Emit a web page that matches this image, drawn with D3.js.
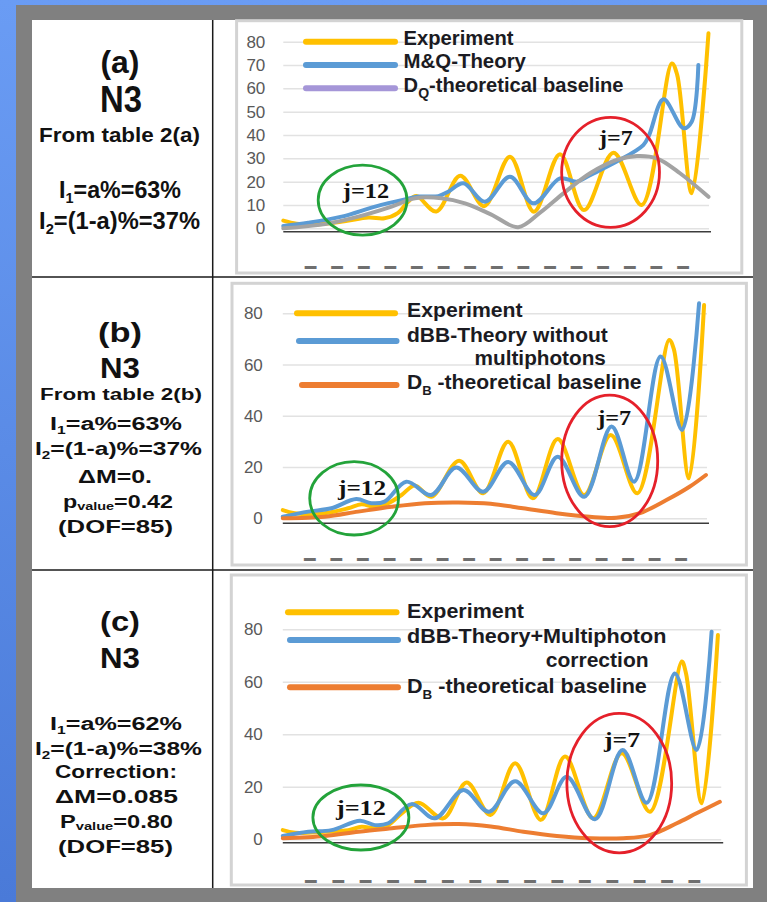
<!DOCTYPE html>
<html>
<head>
<meta charset="utf-8">
<script src="https://cdn.jsdelivr.net/npm/d3@7"></script>
<style>
html, body { margin: 0; padding: 0; }
body { width: 767px; height: 902px; overflow: hidden; }
svg { display: block; }
</style>
</head>
<body>
<script>
// ---- data: [channel position, counts] ----
const expA = [[0,3.3],[0.5,2.0],[1.2,1.6],[2.3,3.0],[3.2,4.6],[3.8,4.3],[4.3,6.5],[4.7,11.5],[5.0,13.8],[5.75,7.2],[6.65,22.5],[7.55,9.5],[8.52,30.7],[9.42,7.1],[10.4,31.8],[11.3,7.8],[12.41,32.4],[13.47,10],[14.6,70.7],[14.8,66],[15.35,15],[15.98,83.6]];
const mqA = [[0,1.0],[0.94,2.4],[2.19,5.0],[3.45,9.3],[4.57,12.4],[5.08,13.6],[5.83,13.8],[6.2,15.7],[6.77,19.3],[7.58,11.4],[8.52,22.1],[9.4,10.7],[10.4,21.4],[11.03,20],[11.53,22.8],[12.53,28.6],[13.53,35.7],[13.75,40],[14.29,55.3],[15.04,42.9],[15.35,45.7],[15.6,70]];
const dqA = [[0,0],[1.57,1.8],[2.82,5],[4.07,9.3],[4.95,12.9],[5.95,12.9],[6.83,10.7],[7.8,6.0],[8.83,0.5],[9.65,6.7],[10.53,15],[11.53,23.6],[12.53,29.3],[13.29,31],[14.04,30],[14.91,23.6],[15.98,13.5]];

const expB = [[0,3.2],[0.45,2],[1.58,2],[2.46,3.9],[2.97,5.5],[3.47,4.5],[3.98,5.9],[4.48,9.1],[4.98,12.8],[5.6,8.4],[6.65,22.5],[7.56,9.8],[8.5,29.9],[9.43,7.8],[10.37,30.9],[11.37,9.1],[12.37,32.5],[13.37,9.8],[14.57,69.6],[14.75,66],[15.32,15.6],[15.89,83.2]];
const dbbB = [[0,0.6],[0.96,2.6],[1.83,3.9],[2.77,7.5],[3.34,5.9],[3.84,6.5],[4.66,14.3],[5.6,9.1],[6.54,19.8],[7.56,10.4],[8.5,22],[9.5,9.1],[10.37,24],[11.37,8.4],[12.4,35.8],[13.25,14.3],[14.25,63.1],[15.06,34.5],[15.7,83.9]];
const baseB = [[0,0],[1.58,0.6],[2.84,2.6],[4.1,4.5],[5.36,5.9],[6.62,6.2],[7.84,5.7],[9.06,3.9],[10.32,2],[11.58,0.6],[12.58,0.2],[13.47,2],[14.47,7.1],[15.34,12.3],[15.96,16.9]];

const expC = [[0,3.5],[0.45,2.5],[1.54,2.9],[2.39,3.5],[2.88,4.8],[3.36,4.2],[3.85,5.4],[4.34,9.9],[4.95,13.9],[5.86,8],[6.71,21.6],[7.58,9.3],[8.48,29],[9.42,7.4],[10.3,31.5],[11.33,8],[12.37,32.8],[13.4,10.5],[14.56,67.7],[14.72,63],[15.29,13.7],[15.88,77.8]];
const dbbC = [[0,1.3],[0.93,2.9],[1.78,3.5],[2.82,7.1],[3.36,5.4],[3.85,6.1],[4.7,13.4],[5.55,8],[6.59,18.8],[7.52,10.5],[8.48,22.1],[9.51,9.9],[10.36,23.8],[11.39,7.6],[12.4,34],[13.28,13.9],[14.31,63.2],[15.1,34],[15.65,79.1]];
const baseC = [[0,0.4],[1.54,1.3],[2.76,2.9],[3.98,4.2],[5.19,5.4],[6.41,5.8],[7.59,4.9],[8.78,2.9],[10.0,1.3],[11.21,0.4],[12.43,0.4],[13.4,1.6],[14.38,6.1],[15.1,9.9],[15.95,14.3]];

const xTicks = [1,2,3,4,5,6,7,8,9,10,11,12,13,14,15];
const yTicksA = [0,10,20,30,40,50,60,70,80];
const yTicksBC = [0,20,40,60,80];

const YELLOW = "#ffc000", BLUE = "#5b9bd5", ORANGE = "#ed7d31", GRAY = "#a3a3a3", LAVENDER = "#a596d8";
const SANS = "'Liberation Sans', Arial, sans-serif";
const SERIF = "'Liberation Serif', 'Times New Roman', serif";

const svg = d3.select("body").append("svg")
    .attr("width", 767)
    .attr("height", 902);

// background + frame
const grad = svg.append("defs").append("linearGradient")
    .attr("id", "bg").attr("x1", 0).attr("y1", 0).attr("x2", 0).attr("y2", 1);
grad.append("stop").attr("offset", "0%").attr("stop-color", "#6a9cf4");
grad.append("stop").attr("offset", "100%").attr("stop-color", "#4a7ad8");
svg.append("rect").attr("width", 767).attr("height", 902).attr("fill", "url(#bg)");
svg.append("rect").attr("x", 16).attr("y", 5).attr("width", 751).attr("height", 897).attr("fill", "#808080");
svg.append("rect").attr("x", 32).attr("y", 20).attr("width", 721).attr("height", 868).attr("fill", "#fff");

// text with optional subscripts, squeezed/stretched to a given width
function label(g, o) {
    const t = g.append("text")
        .attr("font-family", o.family || SANS)
        .attr("font-weight", o.weight || "bold")
        .attr("font-size", o.size)
        .attr("fill", o.color || "#151515")
        .attr("text-anchor", o.anchor || "start");
    let shift = 0;
    o.parts.forEach(p => {
        const s = t.append("tspan").text(typeof p === "string" ? p : p[0]);
        if (typeof p !== "string") {
            const down = o.size * (p[1] || 0.2);
            s.attr("font-size", o.size * (p[2] || 0.62)).attr("dy", down - shift);
            shift = down;
        } else if (shift) {
            s.attr("dy", -shift);
            shift = 0;
        }
    });
    const w = t.node().getComputedTextLength();
    const k = o.width ? o.width / w : 1;
    t.attr("transform", `translate(${o.x},${o.y}) scale(${k},1)`);
    return t;
}

const panels = [
    {
        box: [236.6, 20.7, 741.8, 273],
        xRange: [283.3, 709], yRange: [228.3, 41.7],
        yTicks: yTicksA, tickPad: 18, dashY: 268, axisOff: 3.4,
        series: [[expA, YELLOW], [mqA, BLUE], [dqA, GRAY]],
        legend: [
            { x1: 306, x2: 395, y: 41.7, color: YELLOW, tx: 403.6, ty: 45, parts: ["Experiment"], w: 110 },
            { x1: 306, x2: 395, y: 65, color: BLUE, tx: 403.6, ty: 68.3, parts: ["M&Q-Theory"], w: 122.4 },
            { x1: 306, x2: 395, y: 88.3, color: LAVENDER, tx: 403.6, ty: 91.7, parts: ["D", ["Q", 0.3, 0.7], "-theoretical baseline"], w: 220 }
        ],
        legendSize: 20,
        rings: [
            { u: 2.98, v: 12.1, rx: 44.4, ry: 35, color: "#23a33a", text: "j=12", tu: 3.11, tv: 12.9, tw: 46.4 },
            { u: 12.3, v: 24, rx: 48.9, ry: 55, color: "#e5202a", text: "j=7", tu: 12.5, tv: 35.7, tw: 33.7 }
        ]
    },
    {
        box: [232, 283.3, 746.4, 565],
        xRange: [282.8, 707], yRange: [518.3, 313.3],
        yTicks: yTicksBC, tickPad: 20, dashY: 560, axisOff: 5,
        series: [[expB, YELLOW], [dbbB, BLUE], [baseB, ORANGE]],
        legend: [
            { x1: 297, x2: 395, y: 313.3, color: YELLOW, tx: 407, ty: 316.7, parts: ["Experiment"], w: 115.6 },
            { x1: 299, x2: 396.5, y: 341, color: BLUE, tx: 407, ty: 341.7, parts: ["dBB-Theory without"], w: 201 },
            { tx: 474.6, ty: 365, parts: ["multiphotons"], w: 131.4 },
            { x1: 302, x2: 396.5, y: 385, color: ORANGE, tx: 407, ty: 389.3, parts: ["D", ["B", 0.28, 0.62], " -theoretical baseline"], w: 234.6 }
        ],
        legendSize: 21,
        rings: [
            { u: 2.69, v: 7.8, rx: 44.4, ry: 36.7, color: "#23a33a", text: "j=12", tu: 2.99, tv: 9.1, tw: 48 },
            { u: 12.33, v: 22.4, rx: 48, ry: 65.8, color: "#e5202a", text: "j=7", tu: 12.5, tv: 36.4, tw: 34 }
        ]
    },
    {
        box: [231.3, 575, 746.4, 885],
        xRange: [282.8, 721.2], yRange: [839.3, 629.3],
        yTicks: yTicksBC, tickPad: 20, dashY: 882, axisOff: 3.4,
        series: [[expC, YELLOW], [dbbC, BLUE], [baseC, ORANGE]],
        legend: [
            { x1: 288, x2: 396.5, y: 612.3, color: YELLOW, tx: 407, ty: 618.3, parts: ["Experiment"], w: 117 },
            { x1: 290, x2: 398, y: 640, color: BLUE, tx: 407, ty: 642.7, parts: ["dBB-Theory+Multiphoton"], w: 259.5 },
            { tx: 545.7, ty: 667.3, parts: ["correction"], w: 103 },
            { x1: 290, x2: 398, y: 687.3, color: ORANGE, tx: 407, ty: 692.7, parts: ["D", ["B", 0.28, 0.62], " -theoretical baseline"], w: 240 }
        ],
        legendSize: 21,
        rings: [
            { u: 2.85, v: 8.3, rx: 48, ry: 32.5, color: "#23a33a", text: "j=12", tu: 2.85, tv: 9.3, tw: 50 },
            { u: 12.28, v: 21.4, rx: 52.4, ry: 69.7, color: "#e5202a", text: "j=7", tu: 12.38, tv: 35.3, tw: 36 }
        ]
    }
];

panels.forEach(p => {
    const g = svg.append("g");
    const x = d3.scaleLinear().domain([0, 16]).range(p.xRange);
    const y = d3.scaleLinear().domain([0, 80]).range(p.yRange);

    // chart frame
    g.append("rect")
        .attr("x", p.box[0]).attr("y", p.box[1])
        .attr("width", p.box[2] - p.box[0]).attr("height", p.box[3] - p.box[1])
        .attr("fill", "#fff")
        .attr("stroke", "#d3d3d3")
        .attr("stroke-width", 3);

    // gridlines
    g.append("g")
        .attr("transform", `translate(${p.xRange[0]},0)`)
        .call(d3.axisLeft(y).tickValues(p.yTicks).tickSize(-(p.xRange[1] - p.xRange[0])).tickFormat(""))
        .call(a => a.select(".domain").remove())
        .call(a => a.selectAll("line").attr("stroke", "#e2e2e2").attr("stroke-width", 1.5));

    // y labels
    g.append("g")
        .attr("transform", `translate(${p.xRange[0]},0)`)
        .call(d3.axisLeft(y).tickValues(p.yTicks).tickSize(0).tickPadding(p.tickPad))
        .call(a => a.select(".domain").remove())
        .call(a => a.selectAll("text")
            .attr("font-family", SANS).attr("font-size", 17).attr("fill", "#595959"));

    // category labels (illegible in the source, drawn as dashes)
    g.append("g")
        .attr("transform", `translate(0,${p.dashY})`)
        .call(d3.axisBottom(x).tickValues(xTicks).tickSize(0).tickPadding(0).tickFormat(() => "━"))
        .call(a => a.select(".domain").remove())
        .call(a => a.selectAll("text")
            .attr("y", 0).attr("dy", "0.3em")
            .attr("font-family", "'DejaVu Sans Mono', 'DejaVu Sans', monospace").attr("font-size", 19).attr("fill", "#6f6f6f"));

    // horizontal axis line
    g.append("line")
        .attr("x1", x(0)).attr("x2", x(16) + 2)
        .attr("y1", y(0) + p.axisOff).attr("y2", y(0) + p.axisOff)
        .attr("stroke", "#3c3c3c").attr("stroke-width", 1.6);

    // series
    const line = d3.line()
        .x(d => x(d[0]))
        .y(d => y(d[1]))
        .curve(d3.curveCatmullRom.alpha(0.5));
    p.series.forEach(([data, color]) => {
        g.append("path")
            .attr("d", line(data))
            .attr("fill", "none")
            .attr("stroke", color)
            .attr("stroke-width", 4)
            .attr("stroke-linejoin", "round")
            .attr("stroke-linecap", "round");
    });

    // legend
    p.legend.forEach(l => {
        if (l.color) {
            g.append("line")
                .attr("x1", l.x1).attr("x2", l.x2).attr("y1", l.y).attr("y2", l.y)
                .attr("stroke", l.color).attr("stroke-width", 6).attr("stroke-linecap", "round");
        }
        label(g, { x: l.tx, y: l.ty, size: p.legendSize, parts: l.parts, width: l.w, color: "#1b1b22" });
    });

    // j annotations
    p.rings.forEach(r => {
        g.append("ellipse")
            .attr("cx", x(r.u)).attr("cy", y(r.v))
            .attr("rx", r.rx).attr("ry", r.ry)
            .attr("fill", "none")
            .attr("stroke", r.color)
            .attr("stroke-width", 2.8);
        label(g, { x: x(r.tu), y: y(r.tv), size: 21, family: SERIF, anchor: "middle",
            parts: [r.text], width: r.tw, color: "#111" });
    });
});

// table rules
svg.append("line").attr("x1", 212.7).attr("x2", 212.7).attr("y1", 20).attr("y2", 888)
    .attr("stroke", "#1a1a1a").attr("stroke-width", 1.5);
[277, 570].forEach(yy => {
    svg.append("line").attr("x1", 32).attr("x2", 753).attr("y1", yy).attr("y2", yy)
        .attr("stroke", "#1a1a1a").attr("stroke-width", 1.5);
});

// left column captions
const captionA = [
    { parts: ["(a)"], y: 73, size: 31, w: 39, cx: 120 },
    { parts: ["N3"], y: 112, size: 37, w: 42, cx: 121 },
    { parts: ["From table 2(a)"], y: 142, size: 21, w: 161, cx: 119.5 },
    { parts: ["I", ["1"], "=a%=63%"], y: 198, size: 23, w: 122, cx: 120 },
    { parts: ["I", ["2"], "=(1-a)%=37%"], y: 229, size: 23, w: 161, cx: 119.5 }
];
const captionB = [
    { parts: ["(b)"], y: 342, size: 27, w: 44, cx: 120 },
    { parts: ["N3"], y: 378, size: 30, w: 40, cx: 120 },
    { parts: ["From table 2(b)"], y: 400, size: 17, w: 162, cx: 121 },
    { parts: ["I", ["1"], "=a%=63%"], y: 430, size: 18.5, w: 132, cx: 116 },
    { parts: ["I", ["2"], "=(1-a)%=37%"], y: 455, size: 18.5, w: 167, cx: 118.5 },
    { parts: ["ΔM=0."], y: 483, size: 18, w: 74, cx: 115 },
    { parts: ["p", ["value", 0.12, 0.62], "=0.42"], y: 508, size: 18, w: 110, cx: 118 },
    { parts: ["(DOF=85)"], y: 533, size: 18, w: 115, cx: 115.5 }
];
const captionC = [
    { parts: ["(c)"], y: 631, size: 27, w: 40, cx: 120 },
    { parts: ["N3"], y: 668, size: 30, w: 40, cx: 120 },
    { parts: ["I", ["1"], "=a%=62%"], y: 730, size: 18.5, w: 132, cx: 116 },
    { parts: ["I", ["2"], "=(1-a)%=38%"], y: 755, size: 18.5, w: 167, cx: 118.5 },
    { parts: ["Correction:"], y: 778, size: 18, w: 122, cx: 116 },
    { parts: ["ΔM=0.085"], y: 803, size: 18, w: 123, cx: 116.5 },
    { parts: ["P", ["value", 0.12, 0.62], "=0.80"], y: 828, size: 18, w: 113, cx: 116.5 },
    { parts: ["(DOF=85)"], y: 853, size: 18, w: 115, cx: 115.5 }
];
const captions = svg.append("g");
[...captionA, ...captionB, ...captionC].forEach(c => {
    label(captions, { x: c.cx, y: c.y, size: c.size, parts: c.parts, width: c.w, anchor: "middle", color: "#111" });
});
</script>
</body>
</html>
